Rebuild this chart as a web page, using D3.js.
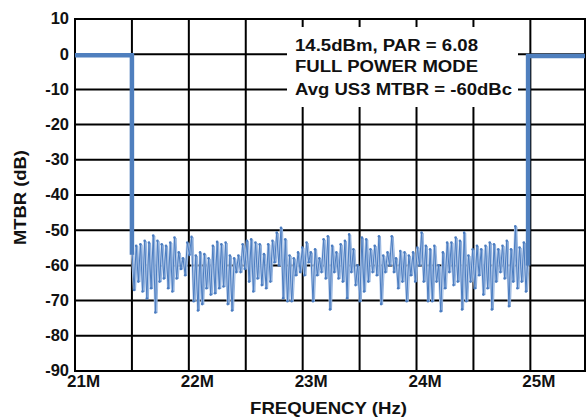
<html>
<head>
<meta charset="utf-8">
<script src="https://d3js.org/d3.v7.min.js"></script>
<style>
body { margin: 0; background: #fff; font-family: 'Liberation Sans', Arial, sans-serif; }
text { font-weight: bold; fill: #111; }
</style>
</head>
<body>
<div id="chart"></div>
<script>
// band edges (thick trace), Hz / dB
var leftEdgeFreq = [21.0e6, 21.5e6, 21.5e6];
var leftEdgeDb = [-0.3, -0.3, -57];
var rightEdgeFreq = [24.98e6, 24.98e6, 25.48e6];
var rightEdgeDb = [-60, -0.5, -0.5];

// in-band noise trace, dB, read left to right from 21.5M to 24.98M
var noiseStart = 21.5e6, noiseEnd = 24.98e6;
var noiseDb = [
  -55, -67, -54.4, -64.6, -54, -67.4, -53, -69.4, -53.5, -66.5, -51.5, -73.4, -53, -64.6,
  -54, -63.7, -54.4, -66.5, -53.5, -67.4, -52.1, -63.7, -56.3, -61, -58, -62.8, -53.5, -57,
  -51.9, -70.2, -57.2, -72.8, -56.3, -71, -56.8, -66.5, -58, -68.3, -54.4, -67.9, -53.3, -66.5,
  -54, -66, -53.5, -71, -57.2, -72.8, -58, -61.9, -57.2, -61.9, -54, -61, -53, -64.6,
  -52.6, -67.4, -53.5, -63.7, -54, -65.6, -56.8, -66.5, -54, -64.6, -53, -59.1, -50.7, -60,
  -49.3, -69.3, -52.6, -70.2, -57.2, -70.2, -58, -62.8, -56.3, -61.9, -54.9, -62.8, -53.5, -59.1,
  -56.3, -70.2, -55.4, -62.8, -58, -61.9,
  -52.6, -63.7, -51.7, -72.5, -54.4, -61.9, -56.3, -63.7, -54, -64.6, -53, -69.3, -51.2, -61.9,
  -55.4, -65.6, -60, -70.2, -52.1, -67.4, -52.6, -64.6, -55.4, -61.9, -54.4, -62.8, -51.7, -71,
  -57.2, -61.9, -56.3, -60, -51.7, -61.9, -58, -66.5, -55.9, -64.6, -56.3, -70.2, -57.2, -62.8,
  -56.3, -64.6, -54.9, -60, -50.7, -64.6, -54.4, -70.2,
  -55.4, -70.2, -54.4, -64.6, -60, -73, -56.3, -66.5, -53.5, -61.9, -53.5, -65.6, -52.1, -64.6,
  -53, -72.5, -50.7, -70.2, -57.2, -64.6, -55.4, -66.5, -54.4, -62.8, -55.4, -68.3, -54.4, -66.5,
  -53.5, -72.5, -54, -64.6, -55.4, -61.9, -54.4, -63.7, -53, -71.6, -55.4, -64.6, -48.9, -66.5,
  -54.9, -64.6, -53.5, -67.4, -57
];

var xTicks = [21e6, 22e6, 23e6, 24e6, 25e6];
var yTicks = [10, 0, -10, -20, -30, -40, -50, -60, -70, -80, -90];
var note = ["14.5dBm, PAR = 6.08", "FULL POWER MODE", "Avg US3 MTBR = -60dBc"];

var svg = d3.select("#chart").append("svg").attr("width", 587).attr("height", 418);
var margin = {left: 75, right: 2, top: 19, bottom: 47};
var width = 587 - margin.left - margin.right,
    height = 418 - margin.top - margin.bottom;

var x = d3.scaleLinear().domain([21e6, 25.48e6]).range([margin.left, margin.left + width]);
var y = d3.scaleLinear().domain([-90, 10]).range([margin.top + height, margin.top]);

// grid
var gridX = d3.range(21e6, 25.49e6, 0.5e6);
svg.append("g").selectAll("line").data(gridX).enter().append("line")
  .attr("x1", d => x(d)).attr("x2", d => x(d))
  .attr("y1", y(10)).attr("y2", y(-90))
  .attr("stroke", "#000").attr("stroke-width", 2);
svg.append("g").selectAll("line").data(yTicks).enter().append("line")
  .attr("x1", x(21e6)).attr("x2", x(25.48e6))
  .attr("y1", d => y(d)).attr("y2", d => y(d))
  .attr("stroke", "#000").attr("stroke-width", 2);
svg.append("rect")
  .attr("x", x(21e6)).attr("y", y(10))
  .attr("width", x(25.48e6) - x(21e6)).attr("height", y(-90) - y(10))
  .attr("fill", "none").attr("stroke", "#000").attr("stroke-width", 2);

// note box
svg.append("rect").attr("x", 287).attr("y", 27).attr("width", 231).attr("height", 80).attr("fill", "#fff");
svg.append("g").selectAll("text").data(note).enter().append("text")
  .attr("x", 295).attr("y", (d, i) => [51, 72, 95][i])
  .attr("textLength", (d, i) => [183, 183, 217][i]).attr("lengthAdjust", "spacingAndGlyphs")
  .style("font-size", "16px")
  .text(d => d);

// axes
var xAxis = svg.append("g").attr("transform", "translate(0," + y(-90) + ")")
  .call(d3.axisBottom(x).tickValues(xTicks).tickSize(0).tickFormat(d => (d / 1e6) + "M"));
xAxis.select(".domain").remove();
xAxis.selectAll("text").attr("dx", 8).attr("dy", 0).attr("y", 16)
  .style("font-size", "17px").style("font-family", "'Liberation Sans', Arial, sans-serif")
  .attr("fill", "#111");

var yAxis = svg.append("g").attr("transform", "translate(" + (x(21e6) - 6) + ",0)")
  .call(d3.axisLeft(y).tickValues(yTicks).tickSize(0).tickFormat(d => String(d)));
yAxis.select(".domain").remove();
yAxis.selectAll("text").attr("x", 0).attr("dy", "0.3em")
  .style("font-size", "16.5px").style("font-family", "'Liberation Sans', Arial, sans-serif")
  .attr("fill", "#111");

svg.append("text").attr("x", 250).attr("y", 414)
  .attr("textLength", 157).attr("lengthAdjust", "spacingAndGlyphs")
  .style("font-size", "16.5px").text("FREQUENCY (Hz)");
svg.append("text").attr("transform", "translate(26,245) rotate(-90)")
  .attr("textLength", 95).attr("lengthAdjust", "spacingAndGlyphs")
  .style("font-size", "16.5px").text("MTBR (dB)");

// noise trace
var step = (noiseEnd - noiseStart) / (noiseDb.length - 1);
var noise = noiseDb.map((v, i) => [noiseStart + i * step, v]);
var line = d3.line().x(d => x(d[0])).y(d => y(d[1]));

svg.append("path").datum(noise).attr("d", line)
  .attr("fill", "none").attr("stroke", "#c6d6ee").attr("stroke-width", 2.4);
svg.append("path").datum(noise).attr("d", line)
  .attr("transform", "translate(1.5,0.5)")
  .attr("fill", "none").attr("stroke", "#8aaddb").attr("stroke-width", 0.9);
svg.append("path").datum(noise).attr("d", line)
  .attr("fill", "none").attr("stroke", "#4a7cc0").attr("stroke-width", 1);
svg.append("g").selectAll("circle").data(noise).enter().append("circle")
  .attr("cx", d => x(d[0])).attr("cy", d => y(d[1])).attr("r", 1.3)
  .attr("fill", "#4a7cc0");

// band edges
var edge = (f, v) => f.map((d, i) => [d, v[i]]);
[edge(leftEdgeFreq, leftEdgeDb), edge(rightEdgeFreq, rightEdgeDb)].forEach(function(pts) {
  svg.append("path").datum(pts).attr("d", line)
    .attr("fill", "none").attr("stroke", "#4f7fbe").attr("stroke-width", 4.5);
});
</script>
</body>
</html>
